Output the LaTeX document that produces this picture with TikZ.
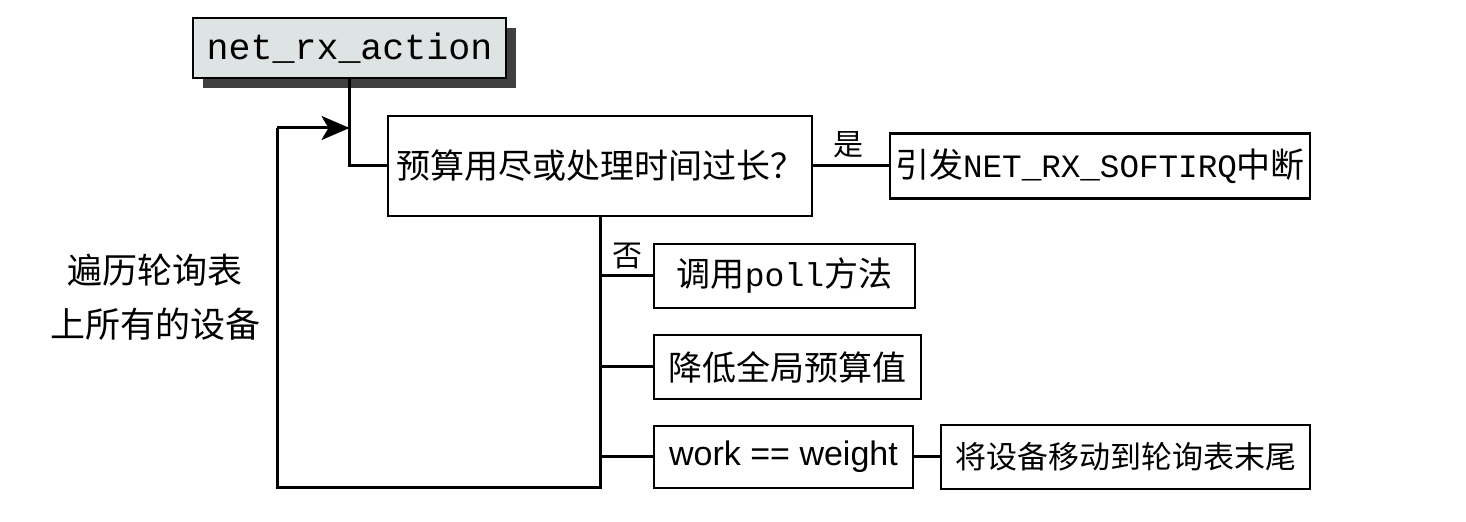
\documentclass[tikz,border=0pt]{standalone}
\usepackage{fontspec}
\setmonofont{Liberation Mono}
\newfontfamily\cjk{Noto Sans CJK SC}
\newfontfamily\hv{Liberation Sans}
\usetikzlibrary{arrows.meta}
\begin{document}
\begin{tikzpicture}[x=0.5pt,y=-0.5pt,
  box/.style={draw=black,line width=1.3pt,fill=white,inner sep=0pt,font=\cjk\fontsize{17}{20}\selectfont},
  conn/.style={line width=1.5pt,line join=miter},
  lbl/.style={font=\cjk\fontsize{15}{18}\selectfont,inner sep=0pt}]
\useasboundingbox (0,0) rectangle (1466,522);
% net_rx_action with shadow
\fill[black!75] (203,28) rectangle (516,88);
\node[box,fill={rgb,255:red,222;green,227;blue,227},minimum width=156.5pt,minimum height=30pt,font=\ttfamily\fontsize{18.3}{20}\selectfont] (net) at (349.5,48) {net\_rx\_action};
% decision
\node[box,minimum width=212pt,minimum height=50pt] (dec) at (600,166) {预算用尽或处理时间过长？};
\node[box,minimum width=210pt,minimum height=32.5pt] (soft) at (1100,166) {引发{\ttfamily\fontsize{16.3}{20}\selectfont NET\_RX\_SOFTIRQ}中断};
\node[box,minimum width=130.5pt,minimum height=32pt] (poll) at (784.5,276) {调用{\ttfamily\fontsize{16.5}{20}\selectfont poll}方法};
\node[box,minimum width=133.5pt,minimum height=32pt] (budget) at (787.5,367) {降低全局预算值};
\node[box,minimum width=129.5pt,minimum height=31pt,font=\hv\fontsize{17}{20}\selectfont] (work) at (783.5,457) {work == weight};
\node[box,minimum width=184.5pt,minimum height=32pt,font=\cjk\fontsize{15.5}{20}\selectfont] (move) at (1125.5,457) {将设备移动到轮询表末尾};
% left text
\node[align=center,font=\cjk\fontsize{17.5}{27}\selectfont,inner sep=0pt] (loopTxt) at (155,297) {遍历轮询表\\上所有的设备};
% labels
\node[lbl] (yes) at (848,145) {是};
\node[lbl] (no) at (627,256) {否};
% connectors
\coordinate (bot) at (598,488);
\coordinate (bl) at (277,488);
\coordinate (tl) at (277,128);
\draw[conn] (net.south) |- (dec.west);
\draw[conn] (dec.east) -- (soft.west);
\draw[conn] (dec.south) -- (dec.south |- bot) -- (bl) -- (tl);
\draw[conn,-{Stealth[length=14pt,width=12pt,inset=3.5pt]}] (tl) -- (net.south |- tl);
\draw[conn] (dec.south |- poll.west) -- (poll.west);
\draw[conn] (dec.south |- budget.west) -- (budget.west);
\draw[conn] (dec.south |- work.west) -- (work.west);
\draw[conn] (work.east) -- (move.west);
\end{tikzpicture}
\end{document}
